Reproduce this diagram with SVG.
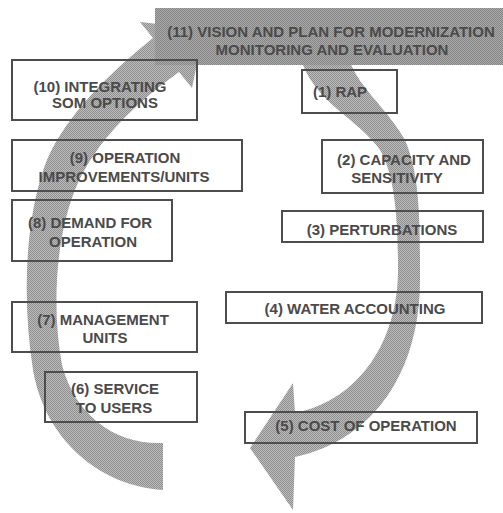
<svg xmlns="http://www.w3.org/2000/svg" width="503" height="513" viewBox="0 0 503 513">
  <defs>
    <pattern id="dither" width="2" height="2" patternUnits="userSpaceOnUse">
      <rect width="2" height="2" fill="#bdbdbd"/>
      <rect width="1" height="1" fill="#8e8e8e"/>
      <rect x="1" y="1" width="1" height="1" fill="#8e8e8e"/>
    </pattern>
    <pattern id="ditherDark" width="2" height="2" patternUnits="userSpaceOnUse">
      <rect width="2" height="2" fill="#aaaaaa"/>
      <rect width="1" height="1" fill="#858585"/>
      <rect x="1" y="1" width="1" height="1" fill="#858585"/>
    </pattern>
  </defs>
  <style>
    .box { fill: none; stroke: #4d4d4d; stroke-width: 2; }
    .arrow { fill: url(#dither); stroke: none; }
    .banner { fill: url(#ditherDark); stroke: none; }
    .lbl { font-family: "Liberation Sans", Arial, sans-serif; font-size: 15px; font-weight: bold; fill: #4a4a4a; text-anchor: middle; }
  </style>
  <rect width="503" height="513" fill="#ffffff"/>

  <g id="connectors">
    <!-- left arrow: tail at bottom, head at top pointing into banner -->
    <path class="arrow" d="M163,490 C100,486 45,440 33,370 C22,300 25,220 45,165 C60,125 100,80 153,38 L140,22 L204,29 L192,88 L179,72 C140,100 95,140 75,190 C55,240 52,310 62,365 C75,415 115,445 163,443 Z"/>
    <!-- right arrow: tail under banner, head at bottom pointing left -->
    <path class="arrow" d="M300,55 C310,100 360,120 380,150 C395,175 398,220 398,270 C398,340 360,400 295,413 L293,383 L250,448 L293,510 L295,457 C375,440 420,370 420,280 C420,220 420,175 405,140 C385,105 355,85 348,55 Z"/>
  </g>

  <g id="n11">
    <rect class="banner" x="155" y="8" width="348" height="57"/>
    <text class="lbl" x="331" y="37">(11) VISION AND PLAN FOR MODERNIZATION</text>
    <text class="lbl" x="332" y="55">MONITORING AND EVALUATION</text>
  </g>
  <g id="n10">
    <rect class="box" x="12" y="60" width="185" height="60"/>
    <text class="lbl" x="100" y="92">(10) INTEGRATING</text>
    <text class="lbl" x="105" y="108">SOM OPTIONS</text>
  </g>
  <g id="n1">
    <rect class="box" x="302" y="70" width="95" height="43"/>
    <text class="lbl" x="340" y="97">(1) RAP</text>
  </g>
  <g id="n9">
    <rect class="box" x="12" y="140" width="230" height="51"/>
    <text class="lbl" x="125" y="163">(9) OPERATION</text>
    <text class="lbl" x="124" y="182">IMPROVEMENTS/UNITS</text>
  </g>
  <g id="n2">
    <rect class="box" x="322" y="140" width="161" height="53"/>
    <text class="lbl" x="404" y="165">(2) CAPACITY AND</text>
    <text class="lbl" x="397" y="183">SENSITIVITY</text>
  </g>
  <g id="n8">
    <rect class="box" x="12" y="200" width="160" height="61"/>
    <text class="lbl" x="90" y="228">(8) DEMAND FOR</text>
    <text class="lbl" x="93" y="247">OPERATION</text>
  </g>
  <g id="n3">
    <rect class="box" x="282" y="211" width="201" height="31"/>
    <text class="lbl" x="382" y="235">(3) PERTURBATIONS</text>
  </g>
  <g id="n4">
    <rect class="box" x="226" y="292" width="256" height="31"/>
    <text class="lbl" x="355" y="314">(4) WATER ACCOUNTING</text>
  </g>
  <g id="n7">
    <rect class="box" x="12" y="302" width="185" height="50"/>
    <text class="lbl" x="103" y="325">(7) MANAGEMENT</text>
    <text class="lbl" x="105" y="343">UNITS</text>
  </g>
  <g id="n6">
    <rect class="box" x="45" y="372" width="152" height="50"/>
    <text class="lbl" x="115" y="394">(6) SERVICE</text>
    <text class="lbl" x="114" y="413">TO USERS</text>
  </g>
  <g id="n5">
    <rect class="box" x="245" y="412" width="232" height="31"/>
    <text class="lbl" x="366" y="431">(5) COST OF OPERATION</text>
  </g>
</svg>
